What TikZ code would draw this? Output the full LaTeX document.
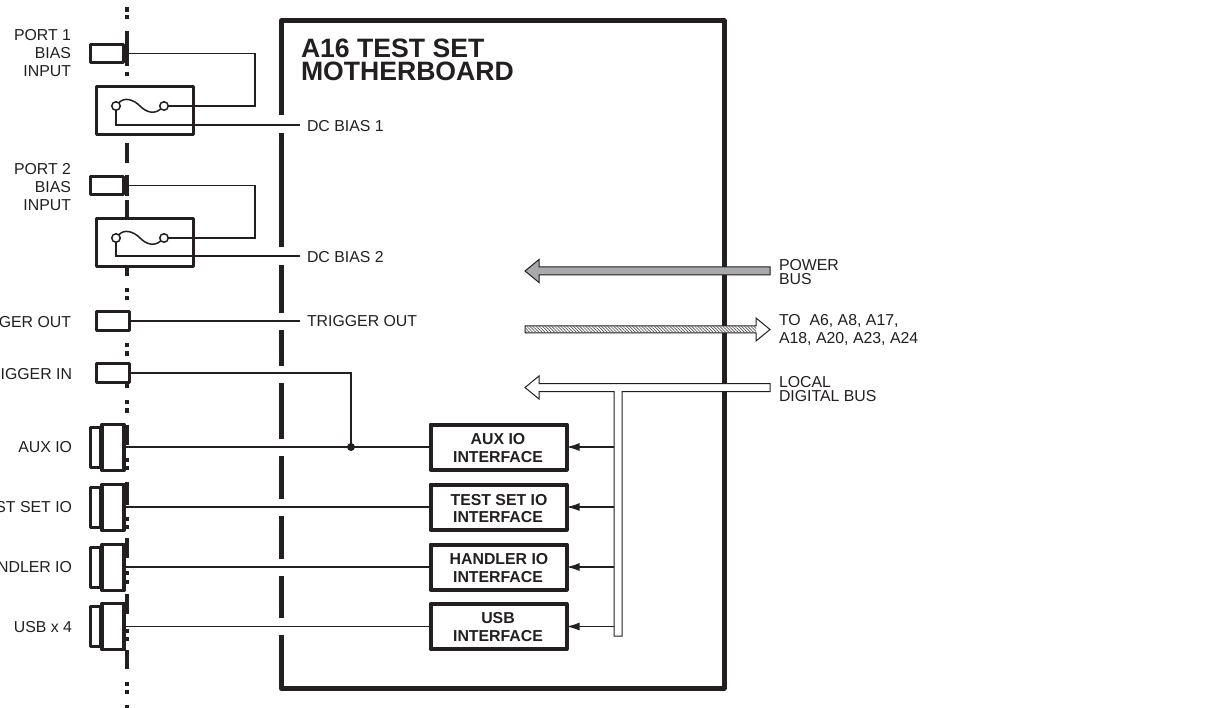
\documentclass[tikz,border=0pt]{standalone}
\usepackage{fontspec}
\setmainfont{Liberation Sans}
\usetikzlibrary{arrows.meta,patterns.meta}
\definecolor{ink}{HTML}{231F20}
\definecolor{busgray}{HTML}{A7A9AC}
\tikzset{
  x=1pt,y=-1pt,
  every node/.style={inner sep=0pt,outer sep=0pt,text=ink,font=\fontsize{15.85}{18}\selectfont},
  lbl/.style={anchor=base east,yshift=-1pt},
  rlbl/.style={anchor=base west,yshift=-1pt},
  portbox/.style={draw=ink,line width=3.4pt,fill=white,rectangle,line join=round},
  subbox/.style={draw=ink,line width=3.4pt,fill=white,rectangle,line join=round},
  fusebox/.style={draw=ink,line width=3.8pt,fill=white,rectangle,minimum width=97pt,minimum height=48pt,line join=round},
  ifbox/.style={draw=ink,line width=4pt,fill=white,rectangle,minimum width=136pt,minimum height=45pt,line join=round},
  iftext/.style={anchor=base,yshift=-1pt,font=\fontsize{15.85}{18}\bfseries\selectfont},
  wire/.style={draw=ink,line width=1.5pt},
  term/.style={circle,draw=ink,line width=1.5pt,fill=white,minimum size=8.5pt},
  panel/.style={draw=ink,line width=5pt},
  panelmain/.style={draw=ink,line width=5pt,line join=round},
  bus/.style={draw=ink,line width=1pt,line join=miter},
  busarrow/.style={wire,-{Latex[length=13pt,width=8pt]}},
}
\begin{document}
\begin{tikzpicture}
\fill[white,use as bounding box] (0,0) rectangle (1212,708);
\clip (0,0) rectangle (1212,708);

% rear panel broken line
\foreach \a/\b in {7/12,15/19,31/66,72/76,143/163,175/196,200/217,268/276,288/292,296/300,343/347,351/356,384/388,400/404,408/413,425/445,458/462,466/470,482/505,517/521,525/529,538/558,571/575,580/584,594/614,629/633,637/641,650/669,682/686,690/694,705/708}
  \draw[draw=ink,line width=4pt] (127,\a) -- (127,\b);

% motherboard outline
\draw[panelmain] (281,115) -- (281,21) -- (724,21) -- (724,688) -- (281,688) -- (281,635);
\foreach \a/\b in {133/247,265/313,330/366,383/439,456/499,516/559,576/618}
  \draw[panel] (281,\a) -- (281,\b);

% title
\node[rlbl,font=\fontsize{26.6}{26}\bfseries\selectfont] (title1) at (301,56.5) {A16 TEST SET};
\node[rlbl,font=\fontsize{26.6}{26}\bfseries\selectfont] (title2) at (301,79.5) {MOTHERBOARD};

% bias ports and fuses
\node[portbox,minimum width=33pt,minimum height=18pt] (p1) at (107,53.5) {};
\node[portbox,minimum width=33pt,minimum height=18pt] (p2) at (107,185.5) {};
\node[fusebox] (f1) at (145,110.5) {};
\node[fusebox] (f2) at (145,242.5) {};
\node[term] (f1r) at (164,106) {};
\node[term] (f1l) at (116,106) {};
\node[term] (f2r) at (164,238) {};
\node[term] (f2l) at (116,238) {};
\draw[wire] (f1l) .. controls (124,97) and (133,99) .. (140,106) .. controls (146,112) and (154,115) .. (f1r);
\draw[wire] (f2l) .. controls (124,229) and (133,231) .. (140,238) .. controls (146,244) and (154,247) .. (f2r);
\coordinate (c1a) at (255,53.5);
\coordinate (c2a) at (255,185.5);
\coordinate (d1) at (300,125);
\coordinate (d2) at (300,256);
\draw[wire] (p1.east) -- (c1a) |- (f1r);
\draw[wire] (p2.east) -- (c2a) |- (f2r);
\draw[wire] (f1l) |- (d1);
\draw[wire] (f2l) |- (d2);

% trigger ports
\node[portbox,minimum width=33pt,minimum height=19pt] (tout) at (113,321) {};
\node[portbox,minimum width=33pt,minimum height=19pt] (tin) at (113,373) {};
\coordinate (toutend) at (300,321);
\coordinate (tcorner) at (351,373);
\draw[wire] (tout.east) -- (toutend);

% multi-pin connectors
\foreach \n/\y in {aux/447.5,ts/507.5,hd/567.5,usb/626.5}{
  \node[subbox,line width=2.8pt,minimum width=10pt,minimum height=40pt] (\n o) at (95.5,\y) {};
  \node[subbox,minimum width=22pt,minimum height=46pt] (\n) at (113,\y) {};
}

% interface boxes
\node[ifbox] (iaux) at (498.5,447) {};
\node[ifbox] (its) at (498.5,507) {};
\node[ifbox] (ihd) at (498.5,567) {};
\node[ifbox] (iusb) at (498.5,626.5) {};
\node[iftext] (iaux1) at (498,443.5) {AUX IO};
\node[iftext] (iaux2) at (498,461.5) {INTERFACE};
\node[iftext] (its1) at (499,504.5) {TEST SET IO};
\node[iftext] (its2) at (498,521.5) {INTERFACE};
\node[iftext] (ihd1) at (499,563) {HANDLER IO};
\node[iftext] (ihd2) at (498,581) {INTERFACE};
\node[iftext] (iusb1) at (498,622.5) {USB};
\node[iftext] (iusb2) at (498,640.5) {INTERFACE};

\draw[wire] (aux.east |- iaux.west) -- (iaux.west);
\draw[wire] (ts.east |- its.west) -- (its.west);
\draw[wire] (hd.east |- ihd.west) -- (ihd.west);
\draw[wire] (usb.east |- iusb.west) -- (iusb.west);
\draw[wire] (tin.east) -- (tcorner) -- (tcorner |- iaux.west);
\fill[ink] (tcorner |- iaux.west) circle (4pt);

% buses
\coordinate (pwrtail) at (770,271);
\coordinate (pwrtip) at (525,271);
\filldraw[bus,fill=busgray] (770,267) -- (539,267) -- (539,259.5) -- (pwrtip) -- (539,282.5) -- (539,275) -- (770,275) -- cycle;
\coordinate (hatchtip) at (770,329.5);
\filldraw[bus,fill=white] (525,326) -- (756,326) -- (756,318) -- (hatchtip) -- (756,341) -- (756,333) -- (525,333) -- cycle;
\path[pattern={Lines[angle=-45,distance=2.2pt,line width=0.7pt]},pattern color=ink!75] (525.5,326.5) -- (756,326.5) -- (756,332.5) -- (525.5,332.5) -- cycle;
\coordinate (stem) at (614,636);
\filldraw[bus,fill=white] (770,383.5) -- (539,383.5) -- (539,376) -- (525,387.5) -- (539,399) -- (539,391.5) -- (614,391.5) -- (stem) -- (622,636) -- (622,391.5) -- (770,391.5) -- cycle;

\draw[busarrow] (stem |- iaux.east) -- (iaux.east);
\draw[busarrow] (stem |- its.east) -- (its.east);
\draw[busarrow] (stem |- ihd.east) -- (ihd.east);
\draw[busarrow] (stem |- iusb.east) -- (iusb.east);

% left labels
\node[lbl] (l1) at (71,40) {PORT 1};
\node[lbl] (l2) at (71,58) {BIAS};
\node[lbl] (l3) at (71,76) {INPUT};
\node[lbl] (l4) at (71,173.5) {PORT 2};
\node[lbl] (l5) at (71,191.5) {BIAS};
\node[lbl] (l6) at (71,209.5) {INPUT};
\node[lbl] (l7) at (71,326) {TRIGGER OUT};
\node[lbl] (l8) at (72,378) {TRIGGER IN};
\node[lbl] (l9) at (72,451) {AUX IO};
\node[lbl] (l10) at (72,511) {TEST SET IO};
\node[lbl] (l11) at (72,571) {HANDLER IO};
\node[lbl] (l12) at (72,631) {USB x 4};

% right labels
\node[rlbl] (r1) at (307,130.5) {DC BIAS 1};
\node[rlbl] (r2) at (307,262) {DC BIAS 2};
\node[rlbl] (r3) at (307,325.5) {TRIGGER OUT};
\node[rlbl] (r4) at (779,269.5) {POWER};
\node[rlbl] (r5) at (779,283.5) {BUS};
\node[rlbl] (r6) at (779,325) {TO\ \ A6, A8, A17,};
\node[rlbl] (r7) at (779,343) {A18, A20, A23, A24};
\node[rlbl] (r8) at (779,386.5) {LOCAL};
\node[rlbl] (r9) at (779,400.5) {DIGITAL BUS};
\end{tikzpicture}
\end{document}
